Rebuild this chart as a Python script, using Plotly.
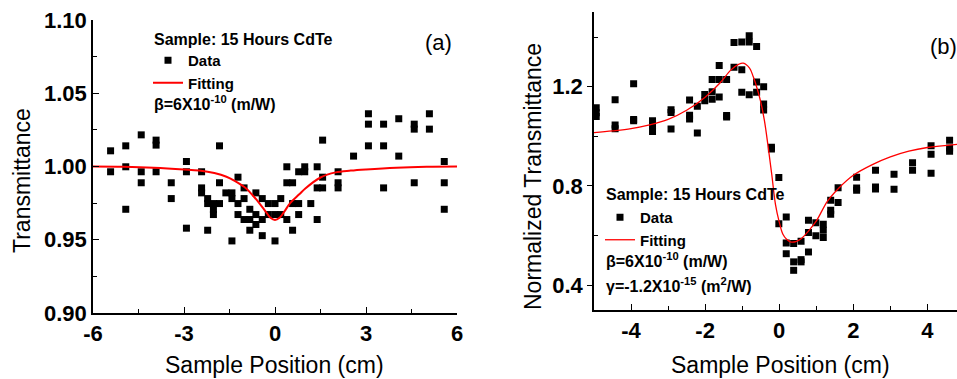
import plotly.graph_objects as go

W, H = 957, 379

# ---------------- Panel (a) data ----------------
a_x = [-5.42, -5.42,
       -4.92, -4.92, -4.92,
       -4.41, -4.41, -4.41,
       -3.92, -3.92, -3.92,
       -3.42, -3.42,
       -2.92, -2.92, -2.92,
       -2.42, -2.42, -2.42,
       -2.22, -2.22, -2.22,
       -2.03, -2.03, -2.03,
       -1.83, -1.83, -1.83,
       -1.62,
       -1.42, -1.42, -1.42,
       -1.22, -1.22, -1.22,
       -1.02, -1.02, -1.02,
       -0.83, -0.83, -0.83,
       -0.63, -0.63, -0.63,
       -0.42, -0.42, -0.42,
       -0.22, -0.22,
       0.0, 0.0, 0.0,
       0.19, 0.19,
       0.39, 0.39, 0.39,
       0.58, 0.58, 0.58,
       0.78, 0.78, 0.78,
       0.98, 0.98,
       1.18,
       1.39, 1.39, 1.39,
       1.57, 1.57, 1.57,
       2.08, 2.08, 2.08,
       2.59,
       3.08, 3.08, 3.08,
       3.58, 3.58, 3.58,
       4.08, 4.08,
       4.59, 4.59, 4.59,
       5.09, 5.09,
       5.58, 5.58, 5.58]
a_y = [1.0107, 0.9964,
       1.0141, 0.9998, 0.9708,
       1.0216, 0.9964, 0.9889,
       1.0180, 1.0146, 0.9964,
       0.9889, 0.9781,
       1.0034, 0.9964, 0.9579,
       0.9964, 0.9854, 0.9820,
       0.9781, 0.9747, 0.9565,
       0.9706, 0.9672, 0.9747,
       0.9889, 1.0141, 0.9747,
       0.9820,
       0.9820, 0.9781, 0.9492,
       0.9927, 0.9747, 0.9672,
       0.9854, 0.9781, 0.9638,
       0.9708, 0.9638, 0.9565,
       0.9820, 0.9672, 0.9604,
       0.9781, 0.9638, 0.9528,
       0.9747, 0.9672,
       0.9747, 0.9672, 0.9492,
       0.9781, 0.9672,
       0.9998, 0.9889, 0.9638,
       0.9889, 0.9747, 0.9565,
       0.9964, 0.9747, 0.9672,
       0.9998, 0.9964,
       0.9747,
       0.9998, 0.9854, 0.9638,
       1.0180, 0.9927, 0.9854,
       0.9964, 0.9889, 0.9854,
       1.0071,
       1.0360, 1.0289, 1.0141,
       1.0289, 1.0141, 0.9854,
       1.0326, 1.0071,
       1.0289, 1.0255, 0.9889,
       1.0360, 1.0255,
       1.0034, 0.9889, 0.9708]

a_fit_x = [-6.0, -5.0, -4.0, -3.0, -2.5, -2.0, -1.6, -1.3, -0.95, -0.7, -0.5,
           -0.3, -0.15, 0.0, 0.15, 0.3, 0.5, 0.8, 1.0, 1.5, 2.0, 2.5, 3.0,
           4.0, 5.0, 6.0]
a_fit_y = [1.0000, 0.9998, 0.9992, 0.9980, 0.9972, 0.9955, 0.9930, 0.9898,
           0.9850, 0.9795, 0.9745, 0.9690, 0.9650, 0.9635, 0.9650, 0.9690,
           0.9750, 0.9810, 0.9850, 0.9925, 0.9960, 0.9972, 0.9980, 0.9992,
           0.9998, 1.0000]

# ---------------- Panel (b) data ----------------
b_x = [-4.94, -4.94, -4.94,
       -4.43, -4.43, -4.43,
       -3.93, -3.93, -3.93,
       -3.42, -3.42, -3.42,
       -2.92, -2.92, -2.92,
       -2.42, -2.42, -2.42,
       -2.21, -2.21,
       -2.01, -2.01,
       -1.81, -1.81, -1.81,
       -1.62, -1.62, -1.62,
       -1.42, -1.42, -1.42,
       -1.22, -1.22,
       -1.01, -1.01, -1.01,
       -0.81, -0.81, -0.81,
       -0.61, -0.61, -0.61,
       -0.42, -0.42, -0.42,
       -0.21, -0.21,
       -0.01, -0.01,
       0.19, 0.19, 0.19,
       0.39, 0.39, 0.39,
       0.59, 0.59, 0.59,
       0.79, 0.79, 0.79,
       0.99, 0.99,
       1.19, 1.19, 1.19,
       1.39, 1.39, 1.39,
       1.59, 1.59,
       2.09, 2.09, 2.09,
       2.60, 2.60, 2.60,
       3.10, 3.10,
       3.60, 3.60,
       4.10, 4.10, 4.10,
       4.60, 4.60, 4.60]
b_y = [1.115, 1.095, 1.080,
       1.148, 1.046, 1.031,
       1.212, 1.068, 1.063,
       1.063, 1.044, 1.020,
       1.107, 1.096, 1.030,
       1.146, 1.085, 1.070,
       1.121, 1.013,
       1.169, 1.143,
       1.229, 1.180, 1.150,
       1.286, 1.229, 1.159,
       1.229, 1.084, 1.078,
       1.378, 1.279,
       1.380, 1.268, 1.178,
       1.405, 1.380, 1.168,
       1.362, 1.219, 1.178,
       1.200, 1.130, 1.106,
       0.956, 0.949,
       0.834, 0.648,
       0.675, 0.570, 0.527,
       0.568, 0.494, 0.460,
       0.577, 0.503, 0.494,
       0.662, 0.612, 0.534,
       0.652, 0.599,
       0.646, 0.621, 0.592,
       0.742, 0.702, 0.686,
       0.793, 0.733,
       0.835, 0.792, 0.783,
       0.863, 0.796, 0.788,
       0.847, 0.787,
       0.894, 0.863,
       0.962, 0.928, 0.851,
       0.984, 0.953, 0.940]

b_fit_x = [-5.0, -4.5, -4.0, -3.5, -3.0, -2.5, -2.0, -1.6, -1.3, -1.1, -0.97,
           -0.8, -0.7, -0.6, -0.5, -0.4, -0.3, -0.2, -0.1, 0.0, 0.1, 0.2,
           0.3, 0.45, 0.6, 0.8, 1.0, 1.3, 1.6, 2.0, 2.5, 3.0, 3.5, 4.0, 4.8]
b_fit_y = [1.015, 1.022, 1.031, 1.046, 1.068, 1.105, 1.158, 1.215, 1.268,
           1.290, 1.295, 1.275, 1.240, 1.195, 1.140, 1.064, 0.960, 0.845,
           0.725, 0.655, 0.605, 0.585, 0.575, 0.576, 0.588, 0.620, 0.658,
           0.738, 0.790, 0.843, 0.885, 0.917, 0.940, 0.955, 0.968]

a_xticks = [-6, -3, 0, 3, 6]
a_yticks = [0.90, 0.95, 1.00, 1.05, 1.10]
a_ytick_labels = ["0.90", "0.95", "1.00", "1.05", "1.10"]
b_xticks = [-4, -2, 0, 2, 4]
b_yticks = [0.4, 0.8, 1.2]
b_ytick_labels = ["0.4", "0.8", "1.2"]

legend_title = "Sample: 15 Hours CdTe"
beta_text = "β=6X10<sup>-10</sup> (m/W)"
gamma_text = "γ=-1.2X10<sup>-15</sup> (m<sup>2</sup>/W)"
x_title = "Sample Position (cm)"
a_y_title = "Transmittance"
b_y_title = "Normalized Transmittance"

FONT = "Liberation Sans, Arial, sans-serif"
RED = "#FF0000"

fig = go.Figure()

fig.add_trace(go.Scatter(x=a_x, y=a_y, mode="markers", name="Data",
                         marker=dict(symbol="square", size=7, color="black"),
                         xaxis="x", yaxis="y", legend="legend"))
fig.add_trace(go.Scatter(x=a_fit_x, y=a_fit_y, mode="lines", name="Fitting",
                         line=dict(color=RED, width=2, shape="spline", smoothing=1.0),
                         xaxis="x", yaxis="y", legend="legend"))
fig.add_trace(go.Scatter(x=b_x, y=b_y, mode="markers", name="Data",
                         marker=dict(symbol="square", size=7, color="black"),
                         xaxis="x2", yaxis="y2", legend="legend2"))
fig.add_trace(go.Scatter(x=b_fit_x, y=b_fit_y, mode="lines", name="Fitting",
                         line=dict(color=RED, width=1.3, shape="spline", smoothing=1.0),
                         xaxis="x2", yaxis="y2", legend="legend2"))

tickfont = dict(family=FONT, size=22, color="black", weight="bold")
titlefont = dict(family=FONT, size=23, color="black")

def axis_common():
    return dict(showline=True, linecolor="black", linewidth=1.5, mirror=False,
                showgrid=False, zeroline=False, ticks="inside", ticklen=6,
                tickwidth=1.2, tickcolor="black", tickfont=tickfont,
                automargin=False)

legend_font = dict(family=FONT, size=15, color="black", weight="bold")

fig.update_layout(
    width=W, height=H,
    margin=dict(l=0, r=0, t=0, b=0, autoexpand=False),
    paper_bgcolor="white", plot_bgcolor="white",
    xaxis=dict(**axis_common(), domain=[93 / W, 457 / W], range=[-6, 6],
               tickvals=a_xticks, ticktext=[str(v) for v in a_xticks],
               minor=dict(tickvals=[-4.5, -1.5, 1.5, 4.5], ticks="inside", ticklen=4,
                          tickcolor="black", tickwidth=1.2),
               anchor="y"),
    yaxis=dict(**axis_common(), domain=[(H - 313) / H, (H - 20) / H], range=[0.90, 1.10],
               tickvals=a_yticks, ticktext=a_ytick_labels,
               minor=dict(tickvals=[0.925, 0.975, 1.025, 1.075], ticks="inside", ticklen=4,
                          tickcolor="black", tickwidth=1.2),
               anchor="x"),
    xaxis2=dict(**axis_common(), domain=[594 / W, 1.0], range=[-5, 4.8],
                tickvals=b_xticks, ticktext=[str(v) for v in b_xticks],
                minor=dict(tickvals=[-3, -1, 1, 3], ticks="inside", ticklen=4,
                           tickcolor="black", tickwidth=1.2),
                anchor="y2"),
    yaxis2=dict(**axis_common(), domain=[(H - 310) / H, (H - 12.3) / H], range=[0.3, 1.5],
                tickvals=b_yticks, ticktext=b_ytick_labels,
                minor=dict(tickvals=[0.6, 1.0, 1.4], ticks="inside", ticklen=4,
                           tickcolor="black", tickwidth=1.2),
                anchor="x2"),
    legend=dict(x=148 / W, y=1 - 44 / H, xanchor="left", yanchor="top",
                bgcolor="rgba(0,0,0,0)", borderwidth=0, tracegroupgap=0,
                font=legend_font),
    legend2=dict(x=600 / W, y=1 - 201 / H, xanchor="left", yanchor="top",
                 bgcolor="rgba(0,0,0,0)", borderwidth=0, tracegroupgap=0,
                 font=legend_font),
    showlegend=True,
)
fig.layout.yaxis2.ticks = "outside"
fig.layout.yaxis2.ticklen = 5

ann_font = dict(family=FONT, size=16, color="black", weight="bold")
# legend titles
fig.add_annotation(x=152 / W, y=1 - 39 / H, xref="paper", yref="paper",
                   text=legend_title, showarrow=False, xanchor="left", yanchor="middle",
                   font=ann_font)
fig.add_annotation(x=604 / W, y=1 - 194 / H, xref="paper", yref="paper",
                   text=legend_title, showarrow=False, xanchor="left", yanchor="middle",
                   font=ann_font)
# parameters
fig.add_annotation(x=152 / W, y=1 - 103 / H, xref="paper", yref="paper",
                   text=beta_text, showarrow=False, xanchor="left", yanchor="middle",
                   font=ann_font)
fig.add_annotation(x=604 / W, y=1 - 260 / H, xref="paper", yref="paper",
                   text=beta_text, showarrow=False, xanchor="left", yanchor="middle",
                   font=ann_font)
fig.add_annotation(x=604 / W, y=1 - 285 / H, xref="paper", yref="paper",
                   text=gamma_text, showarrow=False, xanchor="left", yanchor="middle",
                   font=ann_font)
# panel labels
fig.add_annotation(x=438 / W, y=1 - 42 / H, xref="paper", yref="paper",
                   text="(a)", showarrow=False, xanchor="center", yanchor="middle",
                   font=dict(family=FONT, size=22, color="black"))
fig.add_annotation(x=943 / W, y=1 - 46 / H, xref="paper", yref="paper",
                   text="(b)", showarrow=False, xanchor="center", yanchor="middle",
                   font=dict(family=FONT, size=22, color="black"))
# axis titles
fig.add_annotation(x=22 / W, y=1 - 181 / H, xref="paper", yref="paper",
                   text=a_y_title, showarrow=False, textangle=-90,
                   xanchor="center", yanchor="middle", font=titlefont)
fig.add_annotation(x=533 / W, y=1 - 177 / H, xref="paper", yref="paper",
                   text=b_y_title, showarrow=False, textangle=-90,
                   xanchor="center", yanchor="middle", font=titlefont)
fig.add_annotation(x=274 / W, y=1 - 365 / H, xref="paper", yref="paper",
                   text=x_title, showarrow=False,
                   xanchor="center", yanchor="middle", font=titlefont)
fig.add_annotation(x=780 / W, y=1 - 365 / H, xref="paper", yref="paper",
                   text=x_title, showarrow=False,
                   xanchor="center", yanchor="middle", font=titlefont)

fig.write_html("out.html")
